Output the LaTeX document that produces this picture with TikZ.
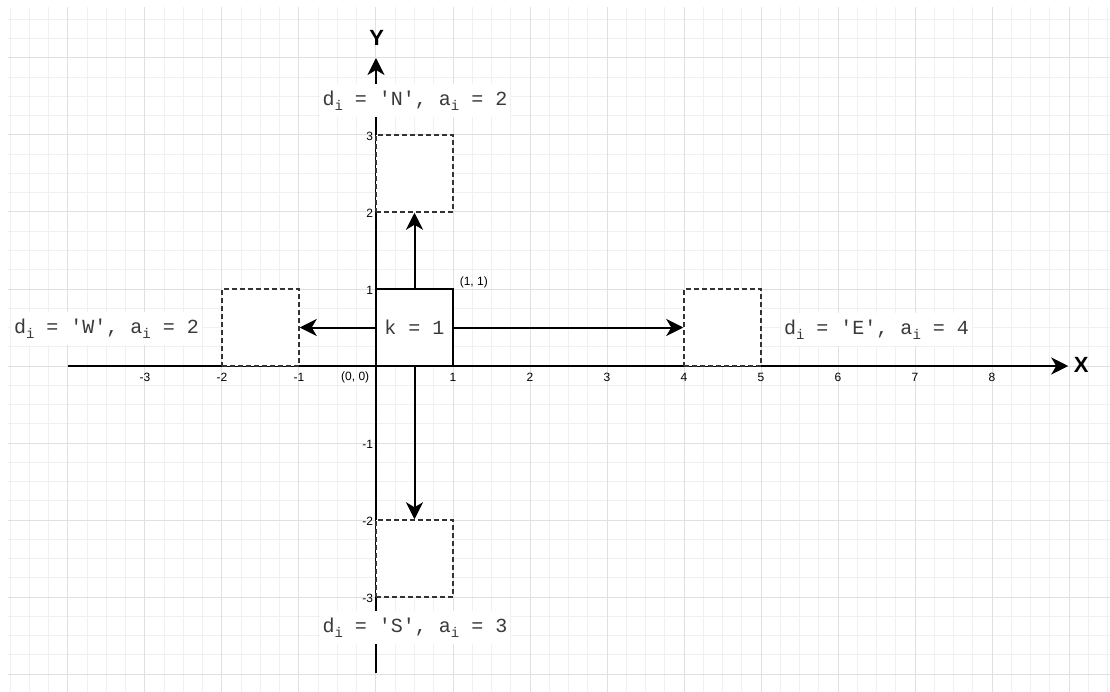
\documentclass[tikz,border=0pt]{standalone}
\usepackage{fontspec}
\setmainfont{Liberation Sans}
\newfontfamily\cour{Liberation Mono}[Ligatures=TeXOff]
\usetikzlibrary{arrows.meta}
\definecolor{minorg}{HTML}{F0F0F0}
\definecolor{majorg}{HTML}{E0E0E0}
\definecolor{txt}{HTML}{3A3A3A}
\definecolor{dash}{HTML}{333333}
\newcommand\subi{\raisebox{-5pt}{\fontsize{14}{14}\selectfont i}}
\begin{document}
\begin{tikzpicture}[x=77pt,y=77pt,
  arr/.style={line width=2pt, -{Stealth[length=17pt,width=17pt,inset=5pt]}},
  axisline/.style={line width=2pt, -{Stealth[length=17pt,width=17pt,inset=5pt]}},
  mainbox/.style={draw=black, line width=2pt, fill=white, minimum size=77pt, inner sep=0pt,
    text=txt, font=\cour\fontsize{20}{24}\selectfont},
  dashbox/.style={draw=dash, line width=1.5pt, dash pattern=on 5pt off 3pt, fill=white,
    minimum size=77pt, inner sep=0pt},
  lab/.style={fill=white, text=txt, inner xsep=3pt, minimum height=33pt,
    font=\cour\fontsize{20}{24}\selectfont},
  tick/.style={font=\fontsize{12}{14}\selectfont, inner sep=0pt},
  axlab/.style={font=\bfseries\fontsize{22}{26}\selectfont, inner sep=0pt}]
\useasboundingbox (-4.8831,-4.2208) rectangle (9.5325,4.7532);
\fill[white] (-4.8831,-4.2208) rectangle (9.5325,4.7532);
\begin{scope}
  \clip (-4.779,-4.2208) rectangle (9.5325,4.662);
  \draw[minorg, line width=1pt] (-5,-4.5) grid[step=0.25] (10,5);
  \draw[majorg, line width=1pt] (-5,-5) grid[step=1] (10,5);
\end{scope}
% axes
\coordinate (xs) at (-4,0);
\coordinate (xe) at (8.99,0);
\coordinate (ys) at (0,-3.99);
\coordinate (ye) at (0,4.0);
\draw[axisline] (xs) -- (xe);
\draw[axisline] (ys) -- (ye);
\node[axlab] (X) at (9.16,0.01) {X};
\node[axlab] (Y) at (0.01,4.26) {Y};
% tick labels
\foreach \k/\t in {-3/-3,-2/-2,-1/-1,1/1,2/2,3/3,4/4,5/5,6/6,7/7,8/8}
  \node[tick] (tx\t) at (\k,-0.15) {\t};
\node[tick] (o) at (-0.27,-0.15) {(0, 0)};
\foreach \k/\t in {3/3,2/2,1/1,-1/-1,-2/-2,-3/-3}
  \node[tick, anchor=east] (ty\t) at (-0.035,\k-0.02) {\t};
\node[tick] (p11) at (1.27,1.09) {(1, 1)};
% boxes
\node[dashbox] (N) at (0.5,2.5) {};
\node[dashbox] (S) at (0.5,-2.5) {};
\node[dashbox] (W) at (-1.5,0.5) {};
\node[dashbox] (E) at (4.5,0.5) {};
\node[mainbox] (K) at (0.5,0.5) {k = 1};
% arrows
\draw[arr] (K.north) -- (N.south);
\draw[arr] (K.south) -- (S.north);
\draw[arr] (K.west) -- (W.east);
\draw[arr] (K.east) -- (E.west);
% labels
\node[lab] (LN) at (0.506,3.45) {d\subi{} = 'N', a\subi{} = 2};
\node[lab] (LS) at (0.506,-3.40) {d\subi{} = 'S', a\subi{} = 3};
\node[lab] (LW) at (-3.5,0.49) {d\subi{} = 'W', a\subi{} = 2};
\node[lab] (LE) at (6.5,0.47) {d\subi{} = 'E', a\subi{} = 4};
\end{tikzpicture}
\end{document}
